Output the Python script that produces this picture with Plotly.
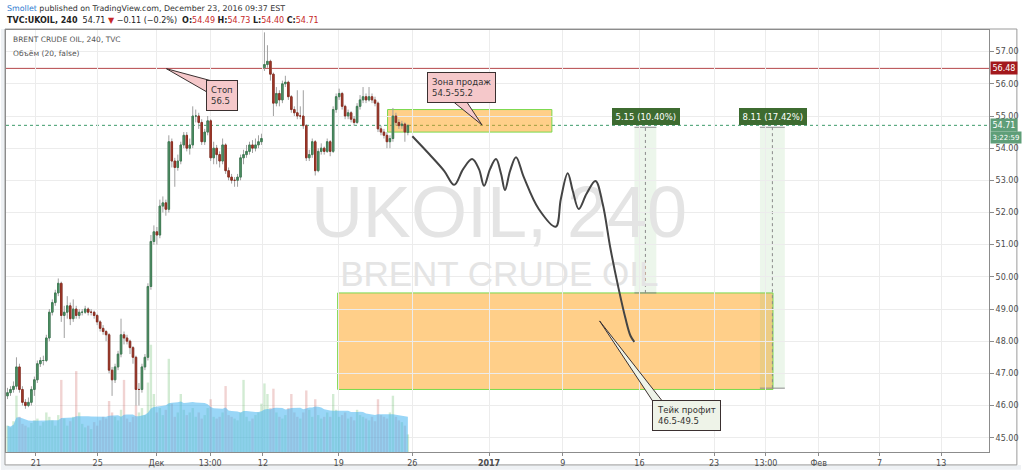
import plotly.graph_objects as go
import pandas as pd

# ---------------- data ----------------
opens = [46.30,46.40,46.50,46.60,47.20,46.50,46.10,46.00,46.10,46.50,
         46.80,47.30,47.40,47.40,48.10,48.90,49.20,49.50,49.80,48.80,
         48.90,49.10,48.70,49.00,48.80,48.90,48.90,49.00,48.90,48.90,
         48.80,48.60,48.40,48.30,48.20,47.10,46.80,47.20,47.60,48.20,
         48.10,48.00,47.80,47.50,46.50,46.50,47.20,47.50,49.70,51.10,
         51.40,51.30,52.20,52.30,52.10,54.20,53.60,53.40,53.60,54.10,
         54.40,54.00,54.10,55.00,55.00,54.80,54.20,54.50,54.85,53.70,
         54.00,53.80,53.60,54.10,53.30,53.10,53.00,53.00,53.10,53.70,
         53.80,53.90,54.10,54.00,54.10,54.20,56.50,56.60,56.70,56.30,
         55.40,55.70,55.50,56.00,56.05,55.60,55.20,55.10,55.00,55.00,
         54.70,53.70,53.80,54.20,53.30,53.90,54.00,53.90,54.20,53.90,
         55.20,55.60,55.70,55.30,55.00,55.10,54.90,54.80,55.30,55.50,
         55.60,55.50,55.60,55.50,55.40,54.60,54.50,54.40,54.20,54.30,
         55.00,54.80,54.70,54.75,54.49]
closes = [46.40,46.50,46.60,47.20,46.50,46.10,46.00,46.10,46.50,46.80,
          47.30,47.40,47.40,48.10,48.90,49.20,49.50,49.80,48.80,48.90,
          49.10,48.70,49.00,48.80,48.90,48.90,49.00,48.90,48.90,48.80,
          48.60,48.40,48.30,48.20,47.10,46.80,47.20,47.60,48.20,48.10,
          48.00,47.80,47.50,46.50,46.50,47.20,47.50,49.70,51.10,51.40,
          51.30,52.20,52.30,52.10,54.20,53.60,53.40,53.60,54.10,54.40,
          54.00,54.10,55.00,55.00,54.80,54.20,54.50,54.85,53.70,54.00,
          53.80,53.60,54.10,53.30,53.10,53.00,53.00,53.10,53.70,53.80,
          53.90,54.10,54.00,54.10,54.20,54.30,56.60,56.70,56.30,55.40,
          55.70,55.50,56.00,56.05,55.60,55.20,55.10,55.00,55.00,54.70,
          53.70,53.80,54.20,53.30,53.90,54.00,53.90,54.20,53.90,55.20,
          55.60,55.70,55.30,55.00,55.10,54.90,54.80,55.30,55.50,55.60,
          55.50,55.60,55.50,55.40,54.60,54.50,54.40,54.20,54.30,55.00,
          54.80,54.70,54.75,54.50,54.71]
highs = [46.55,46.60,46.75,47.50,47.30,46.60,46.20,46.25,46.60,46.90,
         47.40,47.50,47.55,48.20,49.00,49.30,49.60,49.95,49.85,49.10,
         49.40,49.20,49.30,49.10,49.00,49.00,49.10,49.05,49.00,48.95,
         48.85,48.65,48.50,48.35,48.25,47.20,47.30,47.70,48.70,48.30,
         48.20,48.05,47.85,47.55,46.70,47.30,47.60,49.80,51.30,51.60,
         51.55,52.40,52.50,52.40,54.40,54.30,53.70,53.80,54.20,54.50,
         54.50,54.30,55.30,55.20,55.10,54.90,54.60,55.00,54.90,54.20,
         54.10,53.90,54.30,54.15,53.40,53.20,53.10,53.20,53.80,53.95,
         54.10,54.20,54.25,54.30,54.40,54.45,57.60,57.20,56.75,56.35,
         55.90,55.80,56.10,56.25,56.10,55.65,55.30,55.80,55.30,55.80,
         54.75,53.95,54.30,54.25,54.00,54.15,54.05,54.30,54.25,55.30,
         55.70,55.85,55.75,55.35,55.20,55.15,55.00,55.40,55.65,55.90,
         55.70,55.90,55.70,55.60,55.45,54.70,54.60,54.50,54.40,55.25,
         55.10,54.90,54.85,54.80,54.73]
lows = [46.20,46.30,46.40,46.50,46.40,46.00,45.90,45.95,46.00,46.30,
        46.70,47.20,47.25,47.35,48.00,48.80,49.10,49.40,48.60,48.10,
        48.70,48.50,48.60,48.70,48.70,48.80,48.85,48.80,48.80,48.70,
        48.50,48.30,48.20,48.00,47.00,46.30,46.70,47.10,47.50,47.90,
        47.90,47.60,47.30,46.00,46.00,46.40,47.10,47.40,49.60,51.00,
        51.00,51.20,52.00,51.90,52.00,53.40,52.80,53.30,53.50,54.00,
        53.90,53.80,54.00,54.80,54.60,54.10,54.10,54.40,53.60,53.50,
        53.50,53.40,53.50,53.20,53.00,52.90,52.80,52.80,53.00,53.50,
        53.70,53.80,53.85,53.90,54.00,54.10,56.40,56.50,56.10,55.00,
        55.30,55.30,55.40,55.90,55.50,55.10,55.00,54.90,54.90,54.60,
        53.60,53.60,53.70,53.15,53.25,53.80,53.80,53.85,53.75,53.85,
        55.10,55.50,55.20,54.90,54.90,54.80,54.70,54.75,55.20,55.40,
        55.40,55.45,55.40,55.30,54.50,54.40,54.30,54.00,54.00,54.20,
        54.70,54.60,54.60,54.20,54.40]
volumes = [30,28,35,64,40,32,30,28,33,36,
           38,30,34,45,40,36,30,42,82,38,
           30,35,40,92,45,32,28,30,26,34,
           30,36,40,38,58,45,40,36,48,82,
           38,34,40,53,45,50,42,79,122,66,
           45,50,42,48,106,55,40,45,66,48,
           42,45,50,40,45,38,42,50,60,40,
           38,40,45,75,42,40,38,36,45,82,
           40,35,38,42,45,55,78,66,50,72,
           45,40,38,42,50,66,45,40,38,45,
           70,48,40,60,42,38,40,45,40,66,
           48,40,42,45,38,40,36,48,42,40,
           38,36,40,35,60,42,40,38,45,64,
           40,36,34,30,20]

tick_pos = [9.5, 30.17, 49.83, 67.83, 85.5, 110.83, 135.5, 161.17,
            185.83, 211.5, 236.5, 253.83, 271.5, 291.83, 312.5]
tick_labels = ["21", "25", "Дек", "13:00", "12", "19", "26", "<b>2017</b>",
               "9", "16", "23", "13:00", "Фев", "7", "13"]
price_ticks = list(range(45, 58))

stop_level = 56.48
last_price = 54.71

sell_zone = [127.2, 182.2, 54.5, 55.2]
tp_zone = [110.5, 256.2, 46.5, 49.5]

measure_x0 = [209.83, 251.83]
measure_x1 = [217.17, 260.17]
measure_top = [54.65, 54.65]
measure_bottom = [49.5, 46.54]
measure_labels = ["5.15 (10.40%)", "8.11 (17.42%)"]

forecast_x = [135.5, 141.2, 146.2, 149.5, 152.5, 155.5, 157.8, 159.5, 161.5, 163.5,
              165.2, 166.5, 168.2, 170.2, 172.8, 177.8, 183.5, 185.2, 187.5, 189.2,
              191.2, 193.8, 196.8, 199.2, 201.8, 204.5, 206.8, 208.5, 209.8]
forecast_y = [54.37, 53.81, 53.29, 52.86, 53.35, 53.66, 53.35, 52.83, 53.35, 53.66,
              53.20, 52.70, 53.29, 53.72, 53.10, 52.11, 51.56, 52.42, 53.22, 52.67,
              52.11, 52.58, 52.98, 52.27, 50.88, 49.65, 48.72, 48.17, 47.98]

# callouts: tip (x, price), tail base points, box centre, text
callouts = [
    dict(tip=(53.17, 56.47), base=[(66.5, 55.76), (69.17, 56.07)], box=(71.83, 55.64),
         text="Стоп<br>56.5", fill="#f5c8ca"),
    dict(tip=(158.83, 54.72), base=[(149.5, 55.42), (153.83, 55.42)], box=(151.83, 55.88),
         text="Зона продаж<br>54.5-55.2", fill="#f5c8ca"),
    dict(tip=(198.17, 48.63), base=[(216.5, 46.06), (219.83, 46.06)], box=(227.17, 45.70),
         text="Тейк профит<br>46.5-49.5", fill="#eef3e8"),
]

# ---------------- figure ----------------
L, R, T, B = 5, 992, 30, 455
W, H = 1024, 473
def xp(px):
    return (px - L) / (R - L)
def yp(py):
    return (B - py) / (B - T)

bars = list(range(len(closes)))
FONT = "DejaVu Sans"

fig = go.Figure()

# watermark
fig.add_trace(go.Scatter(
    x=[164.5, 164.6], y=[51.81, 49.99], mode="text",
    text=["UKOIL, 240", "BRENT CRUDE OIL"],
    textfont=dict(family="Liberation Sans", size=[72, 35], color="#e4e4e4"),
    hoverinfo="skip", showlegend=False))

# volume MA area + volume bars (secondary axis)
vol_ma = pd.Series(volumes).rolling(20, min_periods=1).mean()
fig.add_trace(go.Scatter(
    x=bars, y=vol_ma, yaxis="y2", mode="lines", line=dict(width=0, color="rgba(70,180,240,0.6)"),
    fill="tozeroy", fillcolor="rgba(70,180,240,0.55)", hoverinfo="skip", showlegend=False))
vol_colors = ["rgba(76,175,80,0.25)" if c >= o else "rgba(200,80,77,0.25)"
              for o, c in zip(opens, closes)]
fig.add_trace(go.Bar(
    x=bars, y=volumes, yaxis="y2", marker=dict(color=vol_colors, line=dict(width=0)),
    width=0.8, hoverinfo="skip", showlegend=False))

# wicks (grey)
fig.add_trace(go.Candlestick(
    x=bars, open=opens, high=highs, low=lows, close=closes,
    increasing=dict(line=dict(color="#a0a0a0", width=1), fillcolor="#a0a0a0"),
    decreasing=dict(line=dict(color="#a0a0a0", width=1), fillcolor="#a0a0a0"),
    hoverinfo="skip", showlegend=False))
# bodies
body_hi = [max(o, c) for o, c in zip(opens, closes)]
body_lo = [min(o, c) for o, c in zip(opens, closes)]
fig.add_trace(go.Candlestick(
    x=bars, open=opens, high=body_hi, low=body_lo, close=closes,
    increasing=dict(line=dict(color="#3f7d55", width=1), fillcolor="#56996c"),
    decreasing=dict(line=dict(color="#8d2f22", width=1), fillcolor="#a83c2c"),
    hoverinfo="skip", showlegend=False))

# forecast path
fig.add_trace(go.Scatter(
    x=forecast_x, y=forecast_y, mode="lines",
    line=dict(color="#444444", width=2, shape="spline", smoothing=1.0),
    hoverinfo="skip", showlegend=False))

shapes = []
# outer frame
shapes.append(dict(type="rect", xref="paper", yref="paper", x0=xp(0), x1=xp(W), y0=yp(H), y1=yp(468),
                   fillcolor="#eef1f4", line=dict(width=0), layer="below"))
shapes.append(dict(type="rect", xref="paper", yref="paper", x0=xp(0), x1=xp(4), y0=yp(H), y1=yp(29),
                   fillcolor="#eef1f4", line=dict(width=0), layer="below"))
shapes.append(dict(type="rect", xref="paper", yref="paper", x0=xp(4), x1=xp(1020), y0=yp(468), y1=yp(29),
                   line=dict(color="#9a9a9a", width=1), layer="below"))
# zones
for z in (sell_zone, tp_zone):
    shapes.append(dict(type="rect", xref="x", yref="y", x0=z[0], x1=z[1], y0=z[2], y1=z[3],
                       fillcolor="rgba(255,160,20,0.5)", line=dict(color="#79d94b", width=1),
                       layer="below"))
# measurement tools
for x0, x1, top, bot in zip(measure_x0, measure_x1, measure_top, measure_bottom):
    shapes.append(dict(type="rect", xref="x", yref="y", x0=x0, x1=x1, y0=bot, y1=top,
                       fillcolor="rgba(110,185,100,0.13)", line=dict(width=0), layer="below"))
    for lvl in (top, bot):
        shapes.append(dict(type="line", xref="x", yref="y", x0=x0, x1=x1, y0=lvl, y1=lvl,
                           line=dict(color="#8a8a8a", width=1), layer="below"))
    xm = (x0 + x1) / 2
    shapes.append(dict(type="line", xref="x", yref="y", x0=xm, x1=xm, y0=bot, y1=top,
                       line=dict(color="#8a8a8a", width=1, dash="dot"), layer="below"))
# horizontal levels
shapes.append(dict(type="line", xref="paper", yref="y", x0=0, x1=1, y0=stop_level, y1=stop_level,
                   line=dict(color="#b5474b", width=1), layer="below"))
shapes.append(dict(type="line", xref="paper", yref="y", x0=0, x1=1, y0=last_price, y1=last_price,
                   line=dict(color="#3d9a6a", width=1, dash="dot"), layer="below"))
# callout tails
for c in callouts:
    (tx, ty), (b1, b2) = c["tip"], c["base"]
    path = f"M {tx},{ty} L {b1[0]},{b1[1]} L {b2[0]},{b2[1]} Z"
    shapes.append(dict(type="path", xref="x", yref="y", path=path, fillcolor=c["fill"],
                       line=dict(color="#3a3030", width=1), layer="above"))

annotations = []
# header
annotations.append(dict(xref="paper", yref="paper", x=xp(4), y=yp(8), xanchor="left", yanchor="middle",
                        showarrow=False, font=dict(family=FONT, size=7.9, color="#333"),
                        text="<span style='color:#2f7bd0'>Smollet</span> published on TradingView.com, December 23, 2016 09:37 EST"))
annotations.append(dict(xref="paper", yref="paper", x=xp(4), y=yp(20), xanchor="left", yanchor="middle",
                        showarrow=False, font=dict(family=FONT, size=8, color="#222"),
                        text="<b>TVC:UKOIL, 240</b>  54.71 <span style='color:#c62828'>▼</span> −0.11 (−0.2%)  "
                             "<b>O:</b><span style='color:#c62828'>54.49</span> <b>H:</b><span style='color:#c62828'>54.73</span> "
                             "<b>L:</b><span style='color:#c62828'>54.40</span> <b>C:</b><span style='color:#c62828'>54.71</span>"))
annotations.append(dict(xref="paper", yref="paper", x=xp(10), y=yp(40), xanchor="left", yanchor="middle",
                        showarrow=False, font=dict(family=FONT, size=7.5, color="#555"),
                        text="BRENT CRUDE OIL, 240, TVC"))
annotations.append(dict(xref="paper", yref="paper", x=xp(10), y=yp(54), xanchor="left", yanchor="middle",
                        showarrow=False, font=dict(family=FONT, size=7.5, color="#555"),
                        text="Объём (20, false)"))
# callout boxes
for c in callouts:
    annotations.append(dict(xref="x", yref="y", x=c["box"][0], y=c["box"][1], showarrow=False,
                            text=c["text"], align="left", bgcolor=c["fill"], bordercolor="#3a3030",
                            borderwidth=1, borderpad=4, font=dict(family=FONT, size=8.5, color="#333")))
# measurement labels
for x0, x1, lab in zip(measure_x0, measure_x1, measure_labels):
    annotations.append(dict(xref="x", yref="y", x=(x0 + x1) / 2 + 0.3, y=54.98, showarrow=False,
                            text=lab, bgcolor="#3d6b30", bordercolor="#3d6b30", borderwidth=1, borderpad=2.5,
                            font=dict(family=FONT, size=8.5, color="white")))
# price-axis labels
for val, txt, bg, size in [(stop_level, "56.48", "#a3181c", 8), (last_price, "54.71", "#5e9e78", 8),
                           (54.34, "3:22:59", "#5e9e78", 7)]:
    annotations.append(dict(xref="paper", yref="y", x=1, y=val, xanchor="left", xshift=1, yanchor="middle",
                            showarrow=False, text=txt, bgcolor=bg, borderpad=1.5,
                            font=dict(family=FONT, size=size, color="white")))

fig.update_layout(
    width=W, height=H,
    margin=dict(l=L, r=W - R, t=T, b=H - B),
    paper_bgcolor="white", plot_bgcolor="white",
    showlegend=False, barmode="overlay",
    xaxis=dict(range=[-0.5, 328.5], tickvals=tick_pos, ticktext=tick_labels,
               showgrid=True, gridcolor="#ececec", zeroline=False,
               showline=True, mirror=True, linecolor="#8c8c8c",
               ticks="outside", ticklen=3, tickcolor="#8c8c8c",
               tickfont=dict(family=FONT, size=8, color="#4c4c4c"),
               rangeslider=dict(visible=False), fixedrange=True),
    yaxis=dict(range=[44.556, 57.673], side="right", tickvals=price_ticks, tickformat=".2f",
               showgrid=True, gridcolor="#ececec", zeroline=False,
               showline=True, mirror=True, linecolor="#8c8c8c",
               ticks="outside", ticklen=4, tickcolor="#8c8c8c",
               tickfont=dict(family=FONT, size=8, color="#4c4c4c")),
    yaxis2=dict(range=[0, 480], overlaying="y", visible=False, fixedrange=True),
    shapes=shapes, annotations=annotations,
)

fig.write_html("out.html", config={"displayModeBar": False},
               post_script="document.body.style.margin='0';document.body.style.overflow='hidden';")
